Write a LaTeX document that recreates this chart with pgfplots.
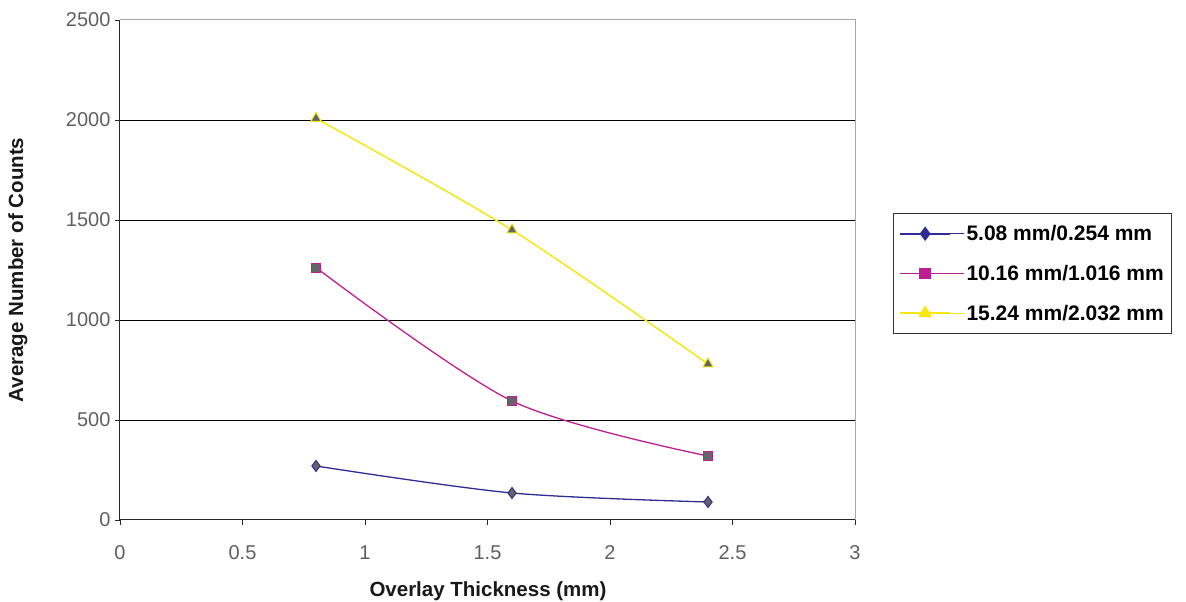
\documentclass[border=0pt]{standalone}
\usepackage{pgfplots}
\pgfplotsset{compat=1.18}
\usepackage{fontspec}
\setmainfont{Liberation Sans}
\definecolor{sblue}{RGB}{45,45,150}
\definecolor{smag}{RGB}{190,30,145}
\definecolor{syel}{RGB}{245,230,20}
\definecolor{mfill}{RGB}{100,100,105}
\definecolor{tickgray}{RGB}{95,95,95}
\begin{document}
\begin{tikzpicture}
\path[use as bounding box] (-120pt,-82pt) rectangle (1066pt,520pt);
\begin{axis}[
  at={(0pt,0pt)}, anchor=south west,
  scale only axis, width=735pt, height=500pt,
  xmin=0, xmax=3, ymin=0, ymax=2500,
  xtick={0,0.5,1,1.5,2,2.5,3},
  ytick={0,500,1000,1500,2000,2500},
  axis x line*=bottom, axis y line*=left,
  axis line style={black!85, line width=1pt},
  tick align=outside,
  major tick length=5pt,
  tick style={black!85, line width=0.8pt},
  extra y ticks={500,1000,1500,2000},
  extra y tick labels={},
  extra y tick style={ymajorgrids=true, major tick length=0pt, major grid style={black, line width=0.9pt}},
  /pgf/number format/assume math mode=true,
  /pgf/number format/1000 sep={},
  tick label style={font=\fontsize{20}{24}\selectfont, text=tickgray},
  xticklabel style={yshift=-17pt},
  yticklabel style={xshift=-1pt},
  xlabel={Overlay Thickness (mm)},
  ylabel={Average Number of Counts},
  every axis x label/.style={at={(axis description cs:0.5007,-0.142)}, anchor=center, font=\fontsize{20.5}{24}\selectfont\bfseries, text=black!90},
  every axis y label/.style={at={(axis description cs:-0.1388,0.5)}, anchor=center, rotate=90, font=\fontsize{20.5}{24}\selectfont\bfseries, text=black!90},
  legend style={at={(axis description cs:1.0517,0.614)}, anchor=north west,
    draw=black!80, line width=0.8pt, font=\fontsize{21}{24}\selectfont\bfseries,
    inner xsep=6pt, inner ysep=10pt, row sep=19pt, cells={anchor=west}},
  legend image code/.code={\draw[mark repeat=2,mark phase=2,line width=1.5pt] plot coordinates {(0pt,0pt) (25pt,0pt) (50pt,0pt)};\path (0pt,0pt) -- (64pt,0pt);},
  clip=false,
]
\draw[gray!70, line width=1pt] (rel axis cs:0,1) -- (rel axis cs:1,1) -- (rel axis cs:1,0);
\addlegendimage{sblue, mark=diamond*, mark size=6pt, mark options={fill=sblue, draw=sblue}}
\addlegendentry{5.08 mm/0.254 mm}
\addlegendimage{smag, mark=square*, mark size=5pt, mark options={fill=smag, draw=smag}}
\addlegendentry{10.16 mm/1.016 mm}
\addlegendimage{syel, mark=triangle*, mark size=6.5pt, mark options={fill=syel, draw=syel}}
\addlegendentry{15.24 mm/2.032 mm}
\addplot[sblue, line width=1.3pt, smooth, mark=diamond*, mark size=5.5pt, mark options={fill=mfill, draw=sblue, line width=1pt}, forget plot]
  coordinates {(0.8,270) (1.6,135) (2.4,90)};
\addplot[smag, line width=1.3pt, smooth, mark=square*, mark size=4.5pt, mark options={fill=mfill, draw=smag, line width=1pt}, forget plot]
  coordinates {(0.8,1262) (1.6,595) (2.4,320)};
\addplot[syel, line width=1.5pt, smooth, mark=triangle*, mark size=6pt, mark options={fill=mfill, draw=syel, line width=1pt}, forget plot]
  coordinates {(0.8,2008) (1.6,1450) (2.4,780)};
\end{axis}
\end{tikzpicture}
\end{document}
